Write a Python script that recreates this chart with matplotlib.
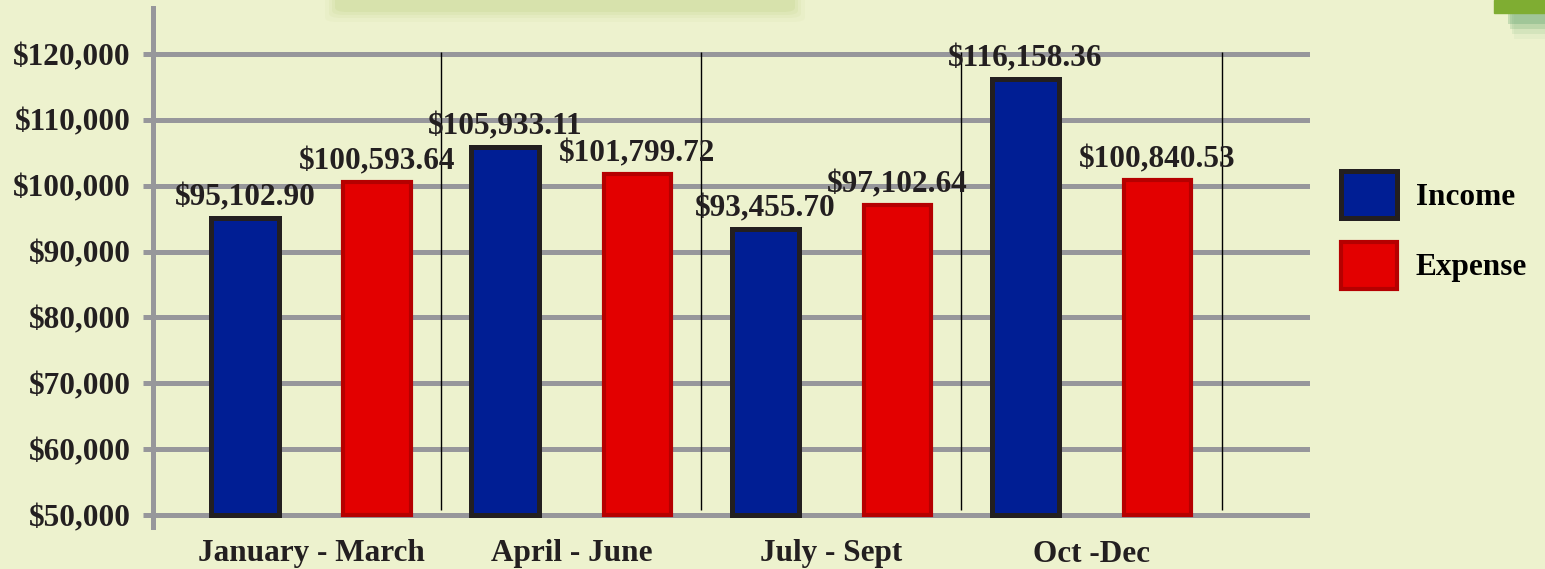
import matplotlib.pyplot as plt
import matplotlib.patches as mpatches
import numpy as np

quarters = ["January - March", "April - June", "July - Sept", "Oct -Dec"]
income = [95102.90, 105933.11, 93455.70, 116158.36]
expense = [100593.64, 101799.72, 97102.64, 100840.53]
y_ticks = [50000, 60000, 70000, 80000, 90000, 100000, 110000, 120000]

BG = "#EDF2CE"
BLUE = "#001E94"
BLUE_EDGE = "#231F20"
RED = "#E30000"
RED_EDGE = "#B50000"
GRID = "#97979B"
TEXT = "#231F20"
BASE = 50000

plt.rcParams["font.family"] = ["Liberation Serif", "DejaVu Serif"]
plt.rcParams["font.weight"] = "bold"

fig = plt.figure(figsize=(15.45, 5.69), dpi=100, facecolor=BG)
ax = fig.add_axes([153 / 1545, 42 / 569, 1157 / 1545, 519 / 569])
ax.set_facecolor(BG)

# blurred banner peeking in at the top edge (soft layered shapes)
for grow, a in [(10, 0.05), (6, 0.07), (3, 0.09), (0, 0.12)]:
    fig.patches.append(mpatches.FancyBboxPatch(
        ((335 - grow) / 1545, 1 - (12 + grow) / 569), (460 + 2 * grow) / 1545, (30 + grow) / 569,
        boxstyle="round,pad=0,rounding_size=0.008", transform=fig.transFigure,
        color="#A8C05E", alpha=a, lw=0, zorder=4))

# green tab in the top right corner
fig.patches.append(mpatches.Rectangle((1494 / 1545, 1 - 13 / 569), 51 / 1545, 13 / 569,
                                      transform=fig.transFigure, color="#7FAD32", zorder=5))
for i, a in enumerate([0.25, 0.18, 0.1, 0.05]):
    fig.patches.append(mpatches.Rectangle(((1508 + i * 2) / 1545, 1 - (24 + i * 5) / 569),
                                          (37 - i * 2) / 1545, (11 + i * 5) / 569,
                                          transform=fig.transFigure, color="#4F9A5F",
                                          alpha=a, lw=0, zorder=4))

x = np.arange(len(quarters))
off = 0.254
w = 0.26

ax.set_xlim(-0.608, 3.84)
ax.set_ylim(48180, 126980)

ax.set_yticks(y_ticks)
ax.set_yticklabels([f"${v:,}" for v in y_ticks], fontsize=22.5, fontweight="bold", color=TEXT)
ax.grid(True, axis="y", color=GRID, linewidth=3.6, zorder=1)
ax.tick_params(axis="y", length=7.2, width=3.6, color=GRID, pad=9)
ax.set_axisbelow(True)

ax.set_xticks(x)
ax.set_xticklabels(quarters, fontsize=22.5, fontweight="bold", color=TEXT)
ax.tick_params(axis="x", length=0, pad=9)

for s in ["top", "right", "bottom"]:
    ax.spines[s].set_visible(False)
ax.spines["left"].set_color(GRID)
ax.spines["left"].set_linewidth(3.6)

# thin separators between quarters
ax.vlines(x + 0.5, 50760, 120300, color="black", linewidth=1, zorder=2)

inc_bars = ax.bar(x - off, np.array(income) - BASE, bottom=BASE, width=w, color=BLUE,
                  edgecolor=BLUE_EDGE, linewidth=3.6, zorder=3, label="Income")
exp_bars = ax.bar(x + off, np.array(expense) - BASE, bottom=BASE, width=w, color=RED,
                  edgecolor=RED_EDGE, linewidth=3, zorder=3, label="Expense")

for xs, vals in [(x - off, income), (x + off, expense)]:
    for xi, v in zip(xs, vals):
        ax.annotate(f"${v:,.2f}", (xi, v), xytext=(0, 4), textcoords="offset points",
                    ha="center", va="bottom", fontsize=22.5, fontweight="bold",
                    color=TEXT, zorder=5)

fig.legend(handles=[inc_bars, exp_bars], labels=["Income", "Expense"],
           loc="upper left", bbox_to_anchor=(1341 / 1545, 1 - 171 / 569),
           frameon=False, fontsize=22.5, handlelength=1.8, handleheight=1.95,
           handletextpad=0.6, labelspacing=0.75, borderpad=0, borderaxespad=0)

fig.savefig("out.png", dpi=100, facecolor=BG)
